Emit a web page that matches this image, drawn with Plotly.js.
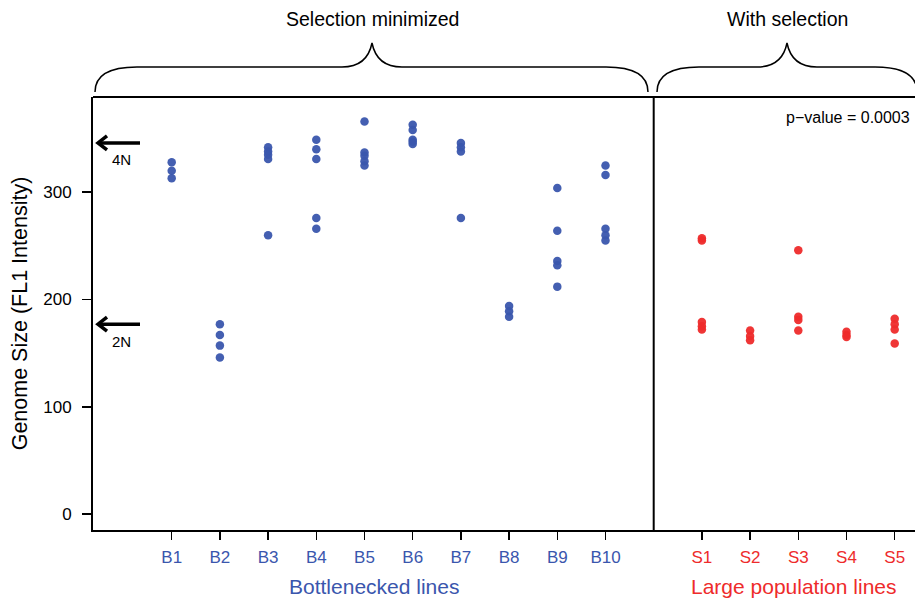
<!DOCTYPE html>
<html>
<head>
<meta charset="utf-8">
<script src="https://cdn.plot.ly/plotly-3.0.1.min.js"></script>
<style>html,body{margin:0;padding:0;background:#fff;overflow:hidden;}</style>
</head>
<body>
<div id="chart" style="width:915px;height:600px;"></div>
<script>
// ---- data ----
const bLabels = ['B1','B2','B3','B4','B5','B6','B7','B8','B9','B10'];
const bValues = [
  [328, 320, 313],
  [177, 167, 157, 146],
  [342, 338, 335, 331, 260],
  [349, 340, 331, 276, 266],
  [366, 337, 334, 329, 325],
  [363, 358, 349, 347, 345],
  [346, 342, 338, 276],
  [194, 189, 184],
  [304, 264, 236, 232, 212],
  [325, 316, 266, 260, 255]
];
const sLabels = ['S1','S2','S3','S4','S5'];
const sValues = [
  [257, 255, 179, 175, 172],
  [171, 166, 162],
  [246, 184, 181, 171],
  [170, 167, 165],
  [182, 177, 172, 159]
];
const ploidyLabels = ['4N','2N'];
const ploidyValues = [346, 177];
const pValueText = 'p\u2212value = 0.0003';
const groupTitles = ['Selection minimized', 'With selection'];
const axisTitles = ['Bottlenecked lines', 'Large population lines'];

// ---- styling ----
const BLUE = '#3a56ad';
const RED = '#ee2b2b';
const W = 915, H = 600;
const M = {l: 93, r: 0, t: 97, b: 70};
const PW = W - M.l - M.r, PH = H - M.t - M.b;
const px = x => (x - M.l) / PW;
const py = y => (H - M.b - y) / PH;
const YR = [-14.9, 388.8];
const pxPerUnit = PH / (YR[1] - YR[0]);

// positions: B lines at 1..10, S lines after a gap
const bPos = bLabels.map((_, i) => i + 1);
const sPos = sLabels.map((_, i) => bLabels.length + 2 + i);
const dividerPos = bLabels.length + 1;

function flatten(pos, vals) {
  const x = [], y = [];
  vals.forEach((arr, i) => arr.forEach(v => { x.push(pos[i]); y.push(v); }));
  return {x, y};
}
const bPts = flatten(bPos, bValues);
const sPts = flatten(sPos, sValues);

const traces = [
  {type: 'scatter', mode: 'markers', x: bPts.x, y: bPts.y,
   marker: {color: BLUE, size: 8.5, opacity: 0.95}, hoverinfo: 'x+y', showlegend: false},
  {type: 'scatter', mode: 'markers', x: sPts.x, y: sPts.y,
   marker: {color: RED, size: 8.5, opacity: 0.95}, hoverinfo: 'x+y', showlegend: false}
];

const tickvals = bPos.concat(sPos);
const ticktext = bLabels.map(t => '<span style="color:' + BLUE + '">' + t + '</span>')
  .concat(sLabels.map(t => '<span style="color:' + RED + '">' + t + '</span>'));

// brace paths in pixel coords -> paper
function pathFromPx(cmds) {
  return cmds.map(c => {
    const op = c[0];
    const nums = c.slice(1);
    const parts = [];
    for (let i = 0; i < nums.length; i += 2) parts.push(px(nums[i]).toFixed(5) + ',' + py(nums[i+1]).toFixed(5));
    return op + ' ' + parts.join(' ');
  }).join(' ');
}
function brace(x0, x1, peakX) {
  const yb = 92, ym = 67, yp = 43;
  return pathFromPx([
    ['M', x0, yb],
    ['C', x0, 76, x0 + 14, ym, x0 + 42, ym],
    ['L', peakX - 30, ym],
    ['C', peakX - 12, ym, peakX - 3, 58, peakX, yp],
    ['C', peakX + 3, 58, peakX + 12, ym, peakX + 30, ym],
    ['L', x1 - 42, ym],
    ['C', x1 - 14, ym, x1, 76, x1, yb]
  ]);
}

const shapes = [
  {type: 'line', xref: 'paper', yref: 'paper', x0: 0, x1: 1, y0: 1, y1: 1, line: {color: '#000', width: 2}},
  {type: 'line', xref: 'x', yref: 'paper', x0: dividerPos, x1: dividerPos, y0: 0, y1: 1, line: {color: '#000', width: 2}},
  {type: 'path', xref: 'paper', yref: 'paper', path: brace(95, 648, 372), line: {color: '#000', width: 1.5}},
  {type: 'path', xref: 'paper', yref: 'paper', path: brace(657, 917, 787), line: {color: '#000', width: 1.5}}
];

const font = 'Liberation Sans, Arial, Helvetica, sans-serif';
const annotations = [
  {xref: 'paper', yref: 'paper', x: px(372), y: py(19), xanchor: 'center', yanchor: 'middle', text: groupTitles[0], showarrow: false, font: {size: 19.5, color: '#000', family: font}},
  {xref: 'paper', yref: 'paper', x: px(787), y: py(19), xanchor: 'center', yanchor: 'middle', text: groupTitles[1], showarrow: false, font: {size: 19.5, color: '#000', family: font}},
  {xref: 'paper', yref: 'paper', x: px(374), y: py(586), xanchor: 'center', yanchor: 'middle', text: axisTitles[0], showarrow: false, font: {size: 21, color: BLUE, family: font}},
  {xref: 'paper', yref: 'paper', x: px(794), y: py(586), xanchor: 'center', yanchor: 'middle', text: axisTitles[1], showarrow: false, font: {size: 21, color: RED, family: font}},
  {xref: 'paper', yref: 'paper', x: px(912), y: py(117), xanchor: 'right', yanchor: 'middle', text: pValueText, showarrow: false, font: {size: 16, color: '#000', family: font}}
];
ploidyValues.forEach((v, i) => {
  // shaft
  shapes.push({type: 'line', xref: 'paper', yref: 'y', x0: px(99), x1: px(140), y0: v, y1: v, line: {color: '#000', width: 3.5}});
  // open chevron head
  const d = 7 / pxPerUnit;
  shapes.push({type: 'path', xref: 'paper', yref: 'y',
    path: 'M ' + px(107) + ',' + (v + d) + ' L ' + px(98) + ',' + v + ' L ' + px(107) + ',' + (v - d),
    line: {color: '#000', width: 3.5}});
  annotations.push({xref: 'paper', yref: 'y', x: px(121), y: v, yshift: -17, xanchor: 'center', yanchor: 'middle', text: ploidyLabels[i],
    showarrow: false, font: {size: 15, color: '#000', family: font}});
});

const layout = {
  width: W, height: H,
  margin: M,
  paper_bgcolor: '#fff', plot_bgcolor: '#fff',
  font: {family: font, color: '#000'},
  showlegend: false,
  xaxis: {
    range: [1 - (171.7 - 93) / 48.2, 16 + (915 - 894.7) / 48.2],
    tickmode: 'array', tickvals: tickvals, ticktext: ticktext,
    ticks: 'outside', ticklen: 8, tickwidth: 1.5, tickcolor: '#000',
    showline: true, linecolor: '#000', linewidth: 2,
    showgrid: false, zeroline: false,
    tickfont: {size: 17, family: font},
    ticklabelstandoff: 3
  },
  yaxis: {
    range: YR,
    tickmode: 'array', tickvals: [0, 100, 200, 300],
    ticks: 'outside', ticklen: 9, tickwidth: 1.5, tickcolor: '#000',
    showline: true, linecolor: '#000', linewidth: 2,
    showgrid: false, zeroline: false,
    tickfont: {size: 17, family: font},
    ticklabelstandoff: 7,
    title: {text: 'Genome Size (FL1 Intensity)', font: {size: 21.5, family: font}, standoff: 10}
  },
  shapes: shapes,
  annotations: annotations
};

Plotly.newPlot('chart', traces, layout, {displayModeBar: false, staticPlot: true});
</script>
</body>
</html>
